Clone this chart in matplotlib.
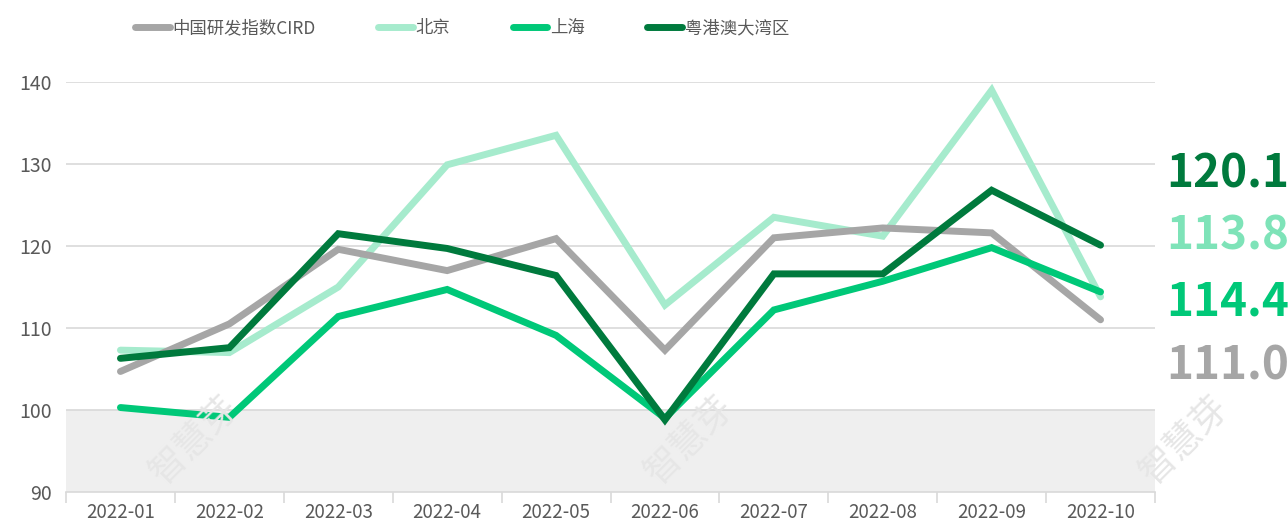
import matplotlib
matplotlib.use("Agg")
import matplotlib.pyplot as plt
import numpy as np

plt.rcParams['font.family'] = ['Noto Sans CJK SC', 'DejaVu Sans']

# data
months = ['2022-01', '2022-02', '2022-03', '2022-04', '2022-05',
          '2022-06', '2022-07', '2022-08', '2022-09', '2022-10']
cird = [104.7, 110.5, 119.6, 117.0, 120.9, 107.3, 121.0, 122.2, 121.6, 111.0]
beijing = [107.3, 107.0, 115.0, 129.9, 133.5, 112.8, 123.5, 121.2, 139.0, 113.8]
shanghai = [100.3, 99.1, 111.4, 114.7, 109.1, 99.0, 112.2, 115.7, 119.8, 114.4]
gba = [106.3, 107.6, 121.5, 119.7, 116.4, 98.8, 116.6, 116.6, 126.8, 120.1]
names = ['中国研发指数CIRD', '北京', '上海', '粤港澳大湾区']

c_gray = '#a6a6a6'
c_light = '#a6ebcd'
c_mid = '#00c878'
c_dark = '#007a3d'

fig = plt.figure(figsize=(12.88, 5.25), dpi=100)
ax = fig.add_axes([66/1288, 1-492/525, (1155-66)/1288, (492-82)/525])

x = np.arange(len(months))

# shaded band below 100
ax.axhspan(90, 100, color='#efefef', zorder=0)

for yv in [100, 110, 120, 130, 140]:
    ax.axhline(yv, color='#d9d9d9', lw=1.2, zorder=1)

lw = 5
series = [(beijing, c_light, names[1], 2),
          (cird, c_gray, names[0], 3),
          (shanghai, c_mid, names[2], 4),
          (gba, c_dark, names[3], 5)]
handles = {}
for vals, col, nm, z in series:
    h, = ax.plot(x, vals, color=col, lw=lw, solid_capstyle='round',
                 solid_joinstyle='miter', zorder=z, label=nm, clip_on=False)
    handles[nm] = h

ax.set_xlim(-0.5, len(months) - 0.5)
ax.set_ylim(90, 140)
ax.set_yticks([90, 100, 110, 120, 130, 140])
ax.set_xticks(x)
ax.set_xticklabels(months)
ax.set_xticks(np.arange(-0.5, len(months), 1), minor=True)
ax.tick_params(axis='x', which='major', length=0, pad=7, labelsize=13.5, labelcolor='#595959')
ax.tick_params(axis='x', which='minor', length=8, width=1.2, color='#d9d9d9')
ax.tick_params(axis='y', length=0, pad=10, labelsize=14, labelcolor='#595959')
for s in ['top', 'right', 'left']:
    ax.spines[s].set_visible(False)
ax.spines['bottom'].set_color('#d9d9d9')
ax.spines['bottom'].set_linewidth(1.2)

# end value labels
end_labels = [(gba[-1], c_dark, 175), (beijing[-1], '#7ee3b8', 236),
              (shanghai[-1], c_mid, 302), (cird[-1], c_gray, 366)]
for v, col, py in end_labels:
    fig.text(1166/1288, 1 - py/525, f'{v:.1f}', color=col, fontsize=33,
             fontweight='bold', ha='left', va='center')

# legend
leg = fig.legend([handles[n] for n in names], names, ncol=4,
                 loc='center left', bbox_to_anchor=(135/1288, 1 - 28/525),
                 frameon=False, fontsize=12.5, handlelength=2.0,
                 handletextpad=0.15, columnspacing=3.6, borderaxespad=0,
                 borderpad=0)
for t in leg.get_texts():
    t.set_color('#595959')

# watermarks
for wx in [195, 690, 1185]:
    fig.text(wx/1288, 1 - 440/525, '智慧芽', rotation=45, fontsize=26,
             color='#e6e6e6', ha='center', va='center', zorder=0.5)

fig.savefig('out.png', dpi=100)
